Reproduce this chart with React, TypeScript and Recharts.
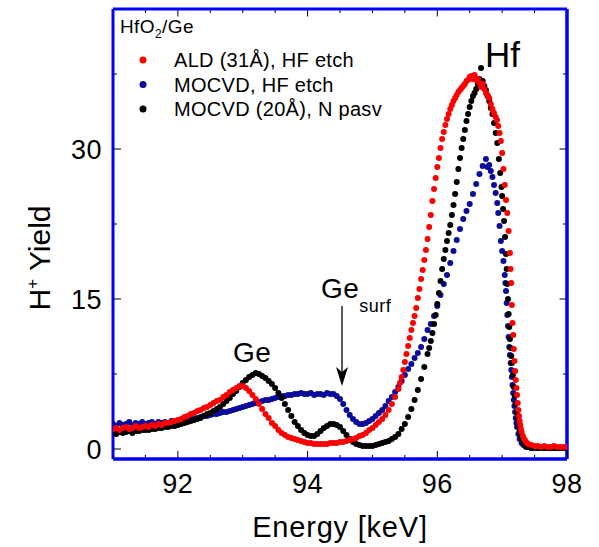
import React from "react";
import { ScatterChart, Scatter, XAxis, YAxis, ReferenceLine } from "recharts";

// HfO2/Ge MEIS spectra: [energy keV, H+ yield]
const ALD_31A: [number, number][] = [
  [91.0, 2.0], [91.05, 2.1], [91.1, 1.9], [91.15, 2.1], [91.2, 2.2], [91.25, 2.0], [91.3, 2.1], [91.35, 2.3],
  [91.4, 2.1], [91.45, 2.2], [91.5, 2.3], [91.55, 2.2], [91.6, 2.4], [91.65, 2.3], [91.7, 2.5], [91.75, 2.4],
  [91.8, 2.6], [91.85, 2.6], [91.9, 2.7], [91.95, 2.8], [92.0, 2.9], [92.05, 3.0], [92.1, 3.2], [92.15, 3.3],
  [92.2, 3.5], [92.25, 3.6], [92.3, 3.8], [92.35, 3.9], [92.4, 4.1], [92.45, 4.2], [92.5, 4.4], [92.55, 4.6],
  [92.6, 4.8], [92.65, 4.9], [92.7, 5.2], [92.75, 5.4], [92.8, 5.7], [92.85, 5.9], [92.9, 6.1], [92.95, 6.3],
  [93.0, 6.3], [93.05, 6.1], [93.1, 5.8], [93.15, 5.4], [93.2, 5.0], [93.25, 4.5], [93.3, 4.0], [93.35, 3.5],
  [93.4, 3.1], [93.45, 2.6], [93.5, 2.3], [93.55, 1.9], [93.6, 1.6], [93.65, 1.4], [93.7, 1.2], [93.75, 1.1],
  [93.8, 1.0], [93.85, 0.9], [93.9, 0.8], [93.95, 0.7], [94.0, 0.6], [94.05, 0.6], [94.1, 0.5], [94.15, 0.5],
  [94.2, 0.5], [94.25, 0.5], [94.3, 0.5], [94.35, 0.6], [94.4, 0.6], [94.45, 0.6], [94.5, 0.7], [94.55, 0.7],
  [94.6, 0.8], [94.65, 0.9], [94.7, 1.0], [94.75, 1.1], [94.8, 1.3], [94.85, 1.4], [94.9, 1.6], [94.95, 1.9],
  [95.0, 2.1], [95.05, 2.4], [95.1, 2.7], [95.15, 3.0], [95.2, 3.4], [95.25, 3.9], [95.3, 4.5], [95.35, 5.2],
  [95.4, 6.0], [95.425, 6.6], [95.45, 7.2], [95.475, 7.9], [95.5, 8.7], [95.525, 9.5], [95.55, 10.3],
  [95.575, 11.1], [95.6, 11.9], [95.625, 12.6], [95.65, 13.3], [95.675, 14.1], [95.7, 15.1], [95.725, 16.0],
  [95.75, 17.0], [95.775, 17.9], [95.8, 18.9], [95.825, 19.9], [95.85, 21.0], [95.875, 22.2], [95.9, 23.4],
  [95.925, 24.8], [95.95, 26.0], [95.975, 27.1], [96.0, 28.2], [96.025, 29.1], [96.05, 30.1], [96.075, 31.0],
  [96.1, 31.7], [96.125, 32.4], [96.15, 33.0], [96.175, 33.5], [96.2, 34.0], [96.225, 34.4], [96.25, 34.8],
  [96.275, 35.1], [96.3, 35.4], [96.325, 35.7], [96.35, 35.9], [96.375, 36.1], [96.4, 36.3], [96.425, 36.5],
  [96.45, 36.8], [96.475, 36.9], [96.5, 37.2], [96.525, 37.3], [96.55, 37.0], [96.575, 37.4], [96.6, 36.9],
  [96.625, 37.0], [96.65, 36.6], [96.675, 36.2], [96.7, 36.5], [96.725, 36.0], [96.75, 35.6], [96.775, 35.4],
  [96.8, 35.1], [96.825, 34.5], [96.85, 34.0], [96.875, 33.6], [96.9, 33.2], [96.92, 32.9], [96.94, 32.3],
  [96.96, 31.6], [96.98, 30.8], [97.0, 29.6], [97.02, 28.0], [97.04, 26.4], [97.06, 24.9], [97.08, 23.6],
  [97.1, 21.8], [97.12, 19.6], [97.13, 18.0], [97.14, 16.6], [97.15, 14.4], [97.16, 12.6], [97.17, 11.4],
  [97.18, 10.0], [97.19, 8.8], [97.2, 7.8], [97.21, 6.9], [97.22, 6.1], [97.23, 5.4], [97.24, 4.6], [97.25, 3.9],
  [97.26, 3.3], [97.27, 2.8], [97.28, 2.4], [97.29, 2.0], [97.3, 1.7], [97.32, 1.3], [97.34, 1.0], [97.36, 0.8],
  [97.38, 0.6], [97.4, 0.5], [97.45, 0.4], [97.5, 0.3], [97.55, 0.3], [97.6, 0.2], [97.65, 0.3], [97.7, 0.2],
  [97.75, 0.2], [97.8, 0.3], [97.85, 0.2], [97.9, 0.2], [97.95, 0.2], [98.0, 0.2],
];

const MOCVD_HF: [number, number][] = [
  [91.0, 2.5], [91.05, 2.3], [91.1, 2.6], [91.15, 2.4], [91.2, 2.5], [91.25, 2.7], [91.3, 2.4], [91.35, 2.6],
  [91.4, 2.5], [91.45, 2.7], [91.5, 2.5], [91.55, 2.6], [91.6, 2.7], [91.65, 2.5], [91.7, 2.7], [91.75, 2.6],
  [91.8, 2.7], [91.85, 2.6], [91.9, 2.8], [91.95, 2.7], [92.0, 2.8], [92.05, 2.7], [92.1, 2.9], [92.15, 2.9],
  [92.2, 3.0], [92.25, 3.0], [92.3, 3.1], [92.35, 3.2], [92.4, 3.3], [92.45, 3.3], [92.5, 3.4], [92.55, 3.5],
  [92.6, 3.5], [92.65, 3.6], [92.7, 3.7], [92.75, 3.7], [92.8, 3.8], [92.85, 3.9], [92.9, 4.0], [92.95, 4.1],
  [93.0, 4.2], [93.05, 4.3], [93.1, 4.4], [93.15, 4.5], [93.2, 4.6], [93.25, 4.7], [93.3, 4.8], [93.35, 4.9],
  [93.4, 4.9], [93.45, 5.0], [93.5, 5.1], [93.55, 5.2], [93.6, 5.3], [93.65, 5.3], [93.7, 5.4], [93.75, 5.4],
  [93.8, 5.5], [93.85, 5.5], [93.9, 5.6], [93.95, 5.5], [94.0, 5.5], [94.05, 5.6], [94.1, 5.4], [94.15, 5.5],
  [94.2, 5.5], [94.25, 5.4], [94.3, 5.6], [94.35, 5.5], [94.4, 5.5], [94.45, 5.3], [94.5, 5.0], [94.55, 4.5],
  [94.6, 3.9], [94.65, 3.4], [94.7, 3.0], [94.75, 2.7], [94.8, 2.5], [94.85, 2.5], [94.9, 2.6], [94.95, 2.8],
  [95.0, 3.0], [95.05, 3.3], [95.1, 3.6], [95.15, 3.9], [95.2, 4.3], [95.25, 4.8], [95.3, 5.2], [95.35, 5.7],
  [95.4, 6.2], [95.45, 6.8], [95.5, 7.4], [95.55, 8.0], [95.6, 8.5], [95.65, 9.1], [95.7, 9.6], [95.75, 10.2],
  [95.8, 11.0], [95.85, 11.9], [95.9, 12.5], [95.95, 13.3], [96.0, 14.3], [96.05, 15.4], [96.1, 16.5],
  [96.15, 17.4], [96.2, 18.6], [96.25, 19.8], [96.3, 20.9], [96.35, 22.0], [96.4, 23.0], [96.45, 23.8],
  [96.5, 24.5], [96.55, 25.5], [96.6, 26.5], [96.65, 27.5], [96.7, 28.3], [96.75, 29.0], [96.775, 28.2],
  [96.8, 28.4], [96.825, 27.8], [96.85, 27.2], [96.875, 26.4], [96.9, 25.6], [96.925, 24.6], [96.94, 23.6],
  [96.96, 22.3], [96.98, 20.8], [97.0, 19.8], [97.02, 18.8], [97.04, 17.4], [97.05, 16.6], [97.06, 15.8],
  [97.07, 14.6], [97.08, 13.4], [97.09, 12.3], [97.1, 11.2], [97.11, 10.2], [97.12, 9.4], [97.13, 8.6],
  [97.14, 7.9], [97.15, 7.2], [97.16, 6.4], [97.17, 5.6], [97.18, 4.9], [97.19, 4.3], [97.2, 3.7], [97.21, 3.1],
  [97.22, 2.6], [97.23, 2.2], [97.25, 1.5], [97.27, 1.0], [97.3, 0.6], [97.33, 0.4], [97.37, 0.2], [97.4, 0.2],
  [97.45, 0.1], [97.5, 0.2], [97.55, 0.1], [97.6, 0.1], [97.65, 0.2], [97.7, 0.1], [97.75, 0.1], [97.8, 0.1],
  [97.85, 0.1], [97.9, 0.1], [97.95, 0.1], [98.0, 0.1],
];

const MOCVD_20A: [number, number][] = [
  [91.0, 1.6], [91.05, 1.5], [91.1, 1.7], [91.15, 1.6], [91.2, 1.7], [91.25, 1.8], [91.3, 1.6], [91.35, 1.8],
  [91.4, 1.8], [91.45, 1.9], [91.5, 1.9], [91.55, 1.9], [91.6, 2.0], [91.65, 2.0], [91.7, 2.1], [91.75, 2.1],
  [91.8, 2.2], [91.85, 2.2], [91.9, 2.3], [91.95, 2.3], [92.0, 2.4], [92.05, 2.5], [92.1, 2.6], [92.15, 2.7],
  [92.2, 2.8], [92.25, 2.9], [92.3, 3.0], [92.35, 3.1], [92.4, 3.3], [92.45, 3.5], [92.5, 3.6], [92.55, 3.8],
  [92.6, 4.0], [92.65, 4.2], [92.7, 4.5], [92.75, 4.8], [92.8, 5.1], [92.85, 5.5], [92.9, 5.8], [92.95, 6.2],
  [93.0, 6.6], [93.05, 6.9], [93.1, 7.2], [93.15, 7.4], [93.2, 7.6], [93.25, 7.5], [93.3, 7.3], [93.35, 7.1],
  [93.4, 6.8], [93.45, 6.5], [93.5, 6.1], [93.55, 5.6], [93.6, 5.1], [93.65, 4.5], [93.7, 3.9], [93.75, 3.3],
  [93.8, 2.7], [93.85, 2.3], [93.9, 1.9], [93.95, 1.6], [94.0, 1.4], [94.05, 1.3], [94.1, 1.3], [94.15, 1.5],
  [94.2, 1.8], [94.25, 2.1], [94.3, 2.3], [94.35, 2.5], [94.4, 2.5], [94.45, 2.4], [94.5, 2.2], [94.55, 1.8],
  [94.6, 1.4], [94.65, 1.0], [94.7, 0.7], [94.75, 0.5], [94.8, 0.4], [94.85, 0.3], [94.9, 0.3], [94.95, 0.3],
  [95.0, 0.3], [95.05, 0.4], [95.1, 0.5], [95.15, 0.6], [95.2, 0.7], [95.25, 0.8], [95.3, 1.0], [95.35, 1.2],
  [95.4, 1.5], [95.45, 2.0], [95.5, 2.5], [95.55, 3.2], [95.6, 4.0], [95.65, 4.9], [95.7, 5.9], [95.75, 7.0],
  [95.8, 8.2], [95.85, 9.5], [95.875, 10.1], [95.9, 10.8], [95.925, 11.6], [95.95, 12.5], [95.975, 13.4],
  [96.0, 14.5], [96.025, 15.6], [96.05, 16.8], [96.075, 18.0], [96.1, 19.0], [96.125, 19.9], [96.15, 20.8],
  [96.175, 21.6], [96.2, 22.4], [96.225, 23.4], [96.25, 24.4], [96.275, 25.5], [96.3, 26.7], [96.325, 28.0],
  [96.35, 29.1], [96.375, 30.1], [96.4, 31.0], [96.425, 31.9], [96.45, 32.8], [96.475, 33.5], [96.5, 34.2],
  [96.525, 34.8], [96.55, 35.3], [96.575, 35.6], [96.6, 36.0], [96.625, 36.5], [96.65, 37.0], [96.675, 38.1],
  [96.7, 36.8], [96.725, 36.3], [96.75, 35.9], [96.775, 35.3], [96.8, 34.8], [96.825, 34.1], [96.85, 33.5],
  [96.875, 32.6], [96.9, 31.6], [96.925, 30.6], [96.95, 29.0], [96.97, 27.6], [96.99, 26.2], [97.0, 25.3],
  [97.015, 24.0], [97.03, 22.8], [97.045, 21.2], [97.06, 19.5], [97.07, 18.0], [97.08, 16.5], [97.09, 15.0],
  [97.1, 13.5], [97.11, 12.2], [97.12, 11.0], [97.13, 10.1], [97.14, 9.3], [97.15, 8.6], [97.165, 7.4],
  [97.18, 6.2], [97.195, 5.3], [97.21, 4.5], [97.225, 3.7], [97.24, 3.0], [97.255, 2.4], [97.27, 1.8],
  [97.285, 1.4], [97.3, 1.0], [97.33, 0.5], [97.36, 0.3], [97.4, 0.2], [97.45, 0.1], [97.5, 0.1],
  [97.55, 0.1], [97.6, 0.1], [97.65, 0.1], [97.7, 0.1], [97.75, 0.1], [97.8, 0.1], [97.85, 0.1],
  [97.9, 0.1], [97.95, 0.1], [98.0, 0.1],
];

const SERIES = [
  { name: "MOCVD, HF etch", color: "#0a0a9c", points: MOCVD_HF },
  { name: "MOCVD (20Å), N pasv", color: "#000000", points: MOCVD_20A },
  { name: "ALD (31Å), HF etch", color: "#ff0000", points: ALD_31A },
];
const LEGEND_ORDER = [2, 0, 1];

const X_DOMAIN: [number, number] = [91, 98];
const Y_DOMAIN: [number, number] = [-1, 44];
const X_TICKS = [91, 91.5, 92, 92.5, 93, 93.5, 94, 94.5, 95, 95.5, 96, 96.5, 97, 97.5, 98];
const X_LABELS = [92, 94, 96, 98];
const Y_TICKS = [0, 7.5, 15, 22.5, 30, 37.5];
const Y_LABELS = [0, 15, 30];

const FONT = "'Liberation Sans', Arial, Helvetica, sans-serif";
const FRAME = "#0000ff";

const toData = (pts: [number, number][]) => pts.map(([x, y]) => ({ x, y }));

function BottomTick(props: any) {
  const { x, y, payload } = props;
  const v = payload.value;
  const major = X_LABELS.includes(v);
  return (
    <g>
      <line x1={x} x2={x} y1={y - 1} y2={y - (major ? 8 : 4)} stroke="#000" strokeWidth={1} />
      {major && (
        <text x={x} y={y + 34} textAnchor="middle" fontSize={27} letterSpacing={0.5} fontFamily={FONT} fill="#000">
          {v}
        </text>
      )}
    </g>
  );
}

function LeftTick(props: any) {
  const { x, y, payload } = props;
  const v = payload.value;
  const major = Y_LABELS.includes(v);
  return (
    <g>
      <line x1={x + 1} x2={x + (major ? 8 : 4)} y1={y} y2={y} stroke="#000" strokeWidth={1} />
      {major && (
        <text x={x - 11} y={y + 10} textAnchor="end" fontSize={27} letterSpacing={0.5} fontFamily={FONT} fill="#000">
          {v}
        </text>
      )}
    </g>
  );
}

const dotShape = (color: string) => (p: any) => <circle cx={p.cx} cy={p.cy} r={3} fill={color} />;

export default function App() {
  return (
    <div style={{ position: "absolute", left: 0, top: 0, width: 599, height: 547, background: "#fff" }}>
      <ScatterChart width={599} height={547} margin={{ top: 9, right: 32, bottom: 58, left: 73 }}>
        <XAxis
          type="number"
          dataKey="x"
          domain={X_DOMAIN}
          ticks={X_TICKS}
          allowDataOverflow
          height={30}
          tickSize={0}
          tickMargin={0}
          tickLine={false}
          tick={<BottomTick />}
          axisLine={{ stroke: FRAME, strokeWidth: 3.5 }}
        />
        <YAxis
          type="number"
          dataKey="y"
          domain={Y_DOMAIN}
          ticks={Y_TICKS}
          allowDataOverflow
          width={40}
          tickSize={0}
          tickMargin={0}
          tickLine={false}
          tick={<LeftTick />}
          axisLine={{ stroke: FRAME, strokeWidth: 3 }}
        />
        {/* mirror ticks on the top and right edges, pointing inward */}
        {X_TICKS.map((v) => (
          <ReferenceLine
            key={`tx${v}`}
            segment={[
              { x: v, y: Y_DOMAIN[1] },
              { x: v, y: Y_DOMAIN[1] - (X_LABELS.includes(v) ? 0.75 : 0.4) },
            ]}
            stroke="#000"
            strokeWidth={1}
            ifOverflow="visible"
          />
        ))}
        {Y_TICKS.map((v) => (
          <ReferenceLine
            key={`ty${v}`}
            segment={[
              { x: X_DOMAIN[1], y: v },
              { x: X_DOMAIN[1] - (Y_LABELS.includes(v) ? 0.115 : 0.06), y: v },
            ]}
            stroke="#000"
            strokeWidth={1}
            ifOverflow="visible"
          />
        ))}
        <ReferenceLine y={Y_DOMAIN[1]} stroke={FRAME} strokeWidth={3} ifOverflow="visible" />
        <ReferenceLine x={X_DOMAIN[1]} stroke={FRAME} strokeWidth={3.5} ifOverflow="visible" />
        {SERIES.map((s) => (
          <Scatter
            key={s.name}
            name={s.name}
            data={toData(s.points)}
            fill={s.color}
            shape={dotShape(s.color)}
            isAnimationActive={false}
          />
        ))}
      </ScatterChart>

      <svg
        width={599}
        height={547}
        style={{ position: "absolute", left: 0, top: 0, pointerEvents: "none" }}
        fontFamily={FONT}
      >
        <text x={120} y={33} fontSize={19} letterSpacing={0.4} fill="#000">
          HfO<tspan dy={5} fontSize={12}>2</tspan>
          <tspan dy={-5}>/Ge</tspan>
        </text>
        {LEGEND_ORDER.map((idx, i) => {
          const s = SERIES[idx];
          const cy = 60 + i * 24.5;
          return (
            <g key={s.name}>
              <circle cx={143} cy={cy} r={3.5} fill={s.color} />
              <text x={174} y={cy + 7} fontSize={20} letterSpacing={0.3} fill="#000">
                {s.name}
              </text>
            </g>
          );
        })}

        <text x={485} y={67} fontSize={35} fill="#000">Hf</text>
        <text x={233} y={362} fontSize={28} letterSpacing={0.5} fill="#000">Ge</text>
        <text x={321} y={298} fontSize={28} letterSpacing={0.5} fill="#000">
          Ge<tspan dy={14} fontSize={18}>surf</tspan>
        </text>
        <line x1={342} x2={342} y1={306} y2={378} stroke="#000" strokeWidth={1.3} />
        <path d="M342 386 L336 367 L342 372 L348 367 Z" fill="#000" />

        <text x={340} y={537} textAnchor="middle" fontSize={29} letterSpacing={0.8} fill="#000">
          Energy [keV]
        </text>
        <text
          transform="translate(50 258) rotate(-90)"
          textAnchor="middle"
          fontSize={30}
          fill="#000"
        >
          H<tspan dy={-12} fontSize={17}>+</tspan>
          <tspan dy={12}> Yield</tspan>
        </text>
      </svg>
    </div>
  );
}
